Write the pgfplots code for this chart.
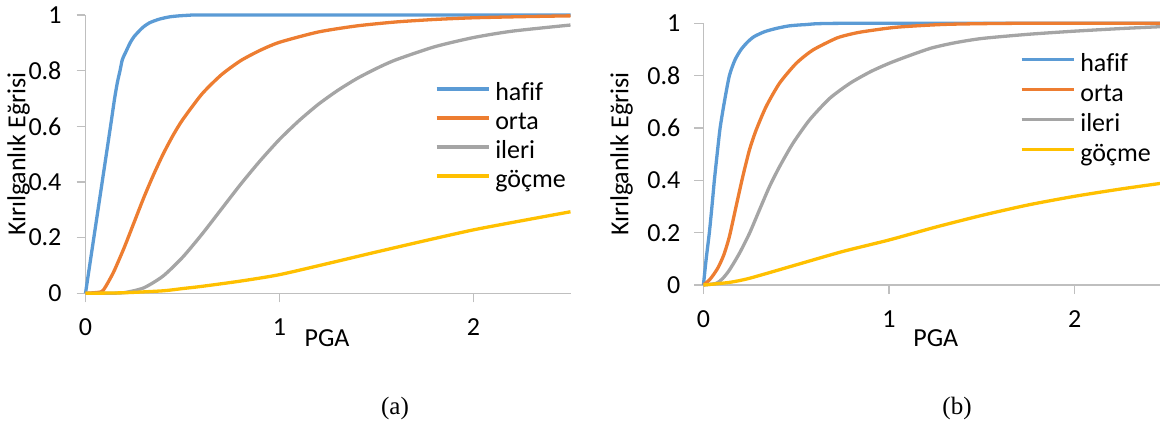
\documentclass[border=0pt]{standalone}
\usepackage{fontspec}
\setmainfont[Ligatures=NoCommon]{Carlito}
\newfontfamily\tnr{Liberation Serif}
\usepackage{pgfplots}
\pgfplotsset{compat=1.18}
\definecolor{cBlue}{HTML}{5B9BD5}
\definecolor{cOrange}{HTML}{ED7D31}
\definecolor{cGray}{HTML}{A5A5A5}
\definecolor{cYellow}{HTML}{FFC000}
\definecolor{cAxis}{HTML}{BFBFBF}
\pgfplotsset{frag/.style={
  scale only axis, xmin=0, ymin=0, ymax=1,
  axis lines=left,
  axis line style={draw=cAxis, line width=0.6pt, -},
  tick style={draw=cAxis, line width=0.6pt},
  tick align=outside, major tick length=4.5pt,
  xtick={0,1,2}, ytick={0,0.2,0.4,0.6,0.8,1},
  /pgf/number format/assume math mode=true,
  /pgf/number format/fixed,
  clip=false,
  xticklabel style={yshift=-4.6pt},
  legend style={draw=none, fill=none, inner sep=0pt, outer sep=0pt, row sep=2.5pt,
    nodes={inner xsep=2.5pt, inner ysep=0pt, text height=9pt, text depth=3pt}},
  legend cell align=left,
  legend image code/.code={\draw[##1] (0pt,3pt) -- (26pt,3pt);},
  every axis plot/.append style={line width=1.65pt, mark=none, smooth, tension=0.4},
}}
\begin{document}
\begin{tikzpicture}[font=\fontsize{13}{15.5}\selectfont]
\path[use as bounding box] (0,0) rectangle (580pt,212.5pt);
% ---------------- (a)
\begin{axis}[frag, at={(42.75pt,65.85pt)}, anchor=south west,
  width=242.5pt, height=139.15pt, xmax=2.5,
  yticklabel style={xshift=-4.0pt},
  xlabel={PGA}, xlabel style={at={(axis description cs:0.498,-0.161)}, anchor=center},
  ylabel={Kırılganlık Eğrisi}, ylabel style={at={(axis description cs:-0.138,0.5)}, anchor=center},
  legend style={at={(axis description cs:0.7206,0.7557)}, anchor=north west}]
\addplot[cBlue] coordinates {(0,0) (0.043,0.2) (0.086,0.4) (0.129,0.6) (0.15,0.7) (0.165,0.76) (0.178,0.8) (0.19,0.84) (0.207,0.866) (0.23,0.9) (0.25,0.922) (0.28,0.945) (0.3,0.958) (0.33,0.972) (0.38,0.985) (0.44,0.994) (0.53,0.999) (0.7,1) (2.5,1)};
\addplot[cOrange] coordinates {(0,0) (0.08,0.005) (0.1,0.02) (0.125,0.05) (0.15,0.084) (0.2,0.165) (0.25,0.254) (0.3,0.343) (0.35,0.425) (0.4,0.5) (0.45,0.566) (0.5,0.623) (0.6,0.716) (0.7,0.785) (0.8,0.836) (0.9,0.873) (1.0,0.902) (1.2,0.939) (1.4,0.961) (1.6,0.975) (1.8,0.984) (2.0,0.99) (2.25,0.994) (2.5,0.997)};
\addplot[cGray] coordinates {(0,0) (0.1,0) (0.2,0.0025) (0.3,0.0195) (0.4,0.062) (0.5,0.129) (0.6,0.212) (0.7,0.302) (0.8,0.392) (0.9,0.476) (1.0,0.553) (1.1,0.62) (1.2,0.679) (1.3,0.729) (1.4,0.772) (1.5,0.808) (1.6,0.839) (1.8,0.886) (2.0,0.919) (2.2,0.942) (2.5,0.964)};
\addplot[cYellow] coordinates {(0,0) (0.2,0.002) (0.4,0.009) (0.5,0.017) (0.6,0.025) (0.8,0.044) (1.0,0.067) (1.267,0.11) (1.478,0.145) (1.75,0.189) (2.0,0.228) (2.25,0.261) (2.5,0.293)};
\legend{hafif,orta,ileri,göçme}
\end{axis}
% ---------------- (b)
\begin{axis}[frag, at={(351.7pt,70pt)}, anchor=south west,
  width=228.3pt, height=130.85pt, xmax=2.46,
  yticklabel style={xshift=-3.5pt},
  xlabel={PGA}, xlabel style={at={(axis description cs:0.509,-0.2025)}, anchor=center},
  ylabel={Kırılganlık Eğrisi}, ylabel style={at={(axis description cs:-0.179,0.5)}, anchor=center},
  legend style={at={(axis description cs:0.6934,0.885)}, anchor=north west, row sep=3pt}]
\addplot[cBlue] coordinates {(0,0) (0.015,0.1) (0.032,0.2) (0.046,0.3) (0.059,0.4) (0.074,0.5) (0.09,0.6) (0.113,0.7) (0.14,0.8) (0.17,0.86) (0.203,0.9) (0.24,0.93) (0.275,0.95) (0.33,0.968) (0.39,0.98) (0.46,0.99) (0.55,0.995) (0.77,1) (2.46,1)};
\addplot[cOrange] coordinates {(0,0) (0.032,0.019) (0.055,0.04) (0.077,0.064) (0.095,0.09) (0.113,0.121) (0.14,0.185) (0.176,0.3) (0.212,0.414) (0.248,0.516) (0.284,0.592) (0.338,0.682) (0.41,0.771) (0.5,0.847) (0.59,0.898) (0.716,0.943) (0.79,0.958) (0.86,0.968) (1.04,0.985) (1.31,0.996) (1.7,1) (2.46,1)};
\addplot[cGray] coordinates {(0,0) (0.068,0.006) (0.104,0.025) (0.14,0.057) (0.194,0.121) (0.248,0.197) (0.302,0.287) (0.356,0.376) (0.41,0.452) (0.482,0.541) (0.572,0.631) (0.68,0.713) (0.79,0.771) (0.9,0.815) (1.0,0.847) (1.1,0.874) (1.226,0.905) (1.35,0.925) (1.5,0.942) (1.75,0.958) (2.0,0.97) (2.25,0.98) (2.46,0.987)};
\addplot[cYellow] coordinates {(0,0) (0.14,0.01) (0.25,0.026) (0.5,0.077) (0.75,0.128) (1.0,0.172) (1.25,0.221) (1.5,0.266) (1.75,0.306) (2.0,0.339) (2.25,0.367) (2.46,0.388)};
\legend{hafif,orta,ileri,göçme}
\end{axis}
\node[font=\tnr\fontsize{12.5}{15}\selectfont] at (197.5pt,8.5pt) {(a)};
\node[font=\tnr\fontsize{12.5}{15}\selectfont] at (478.5pt,8.5pt) {(b)};
\end{tikzpicture}
\end{document}
